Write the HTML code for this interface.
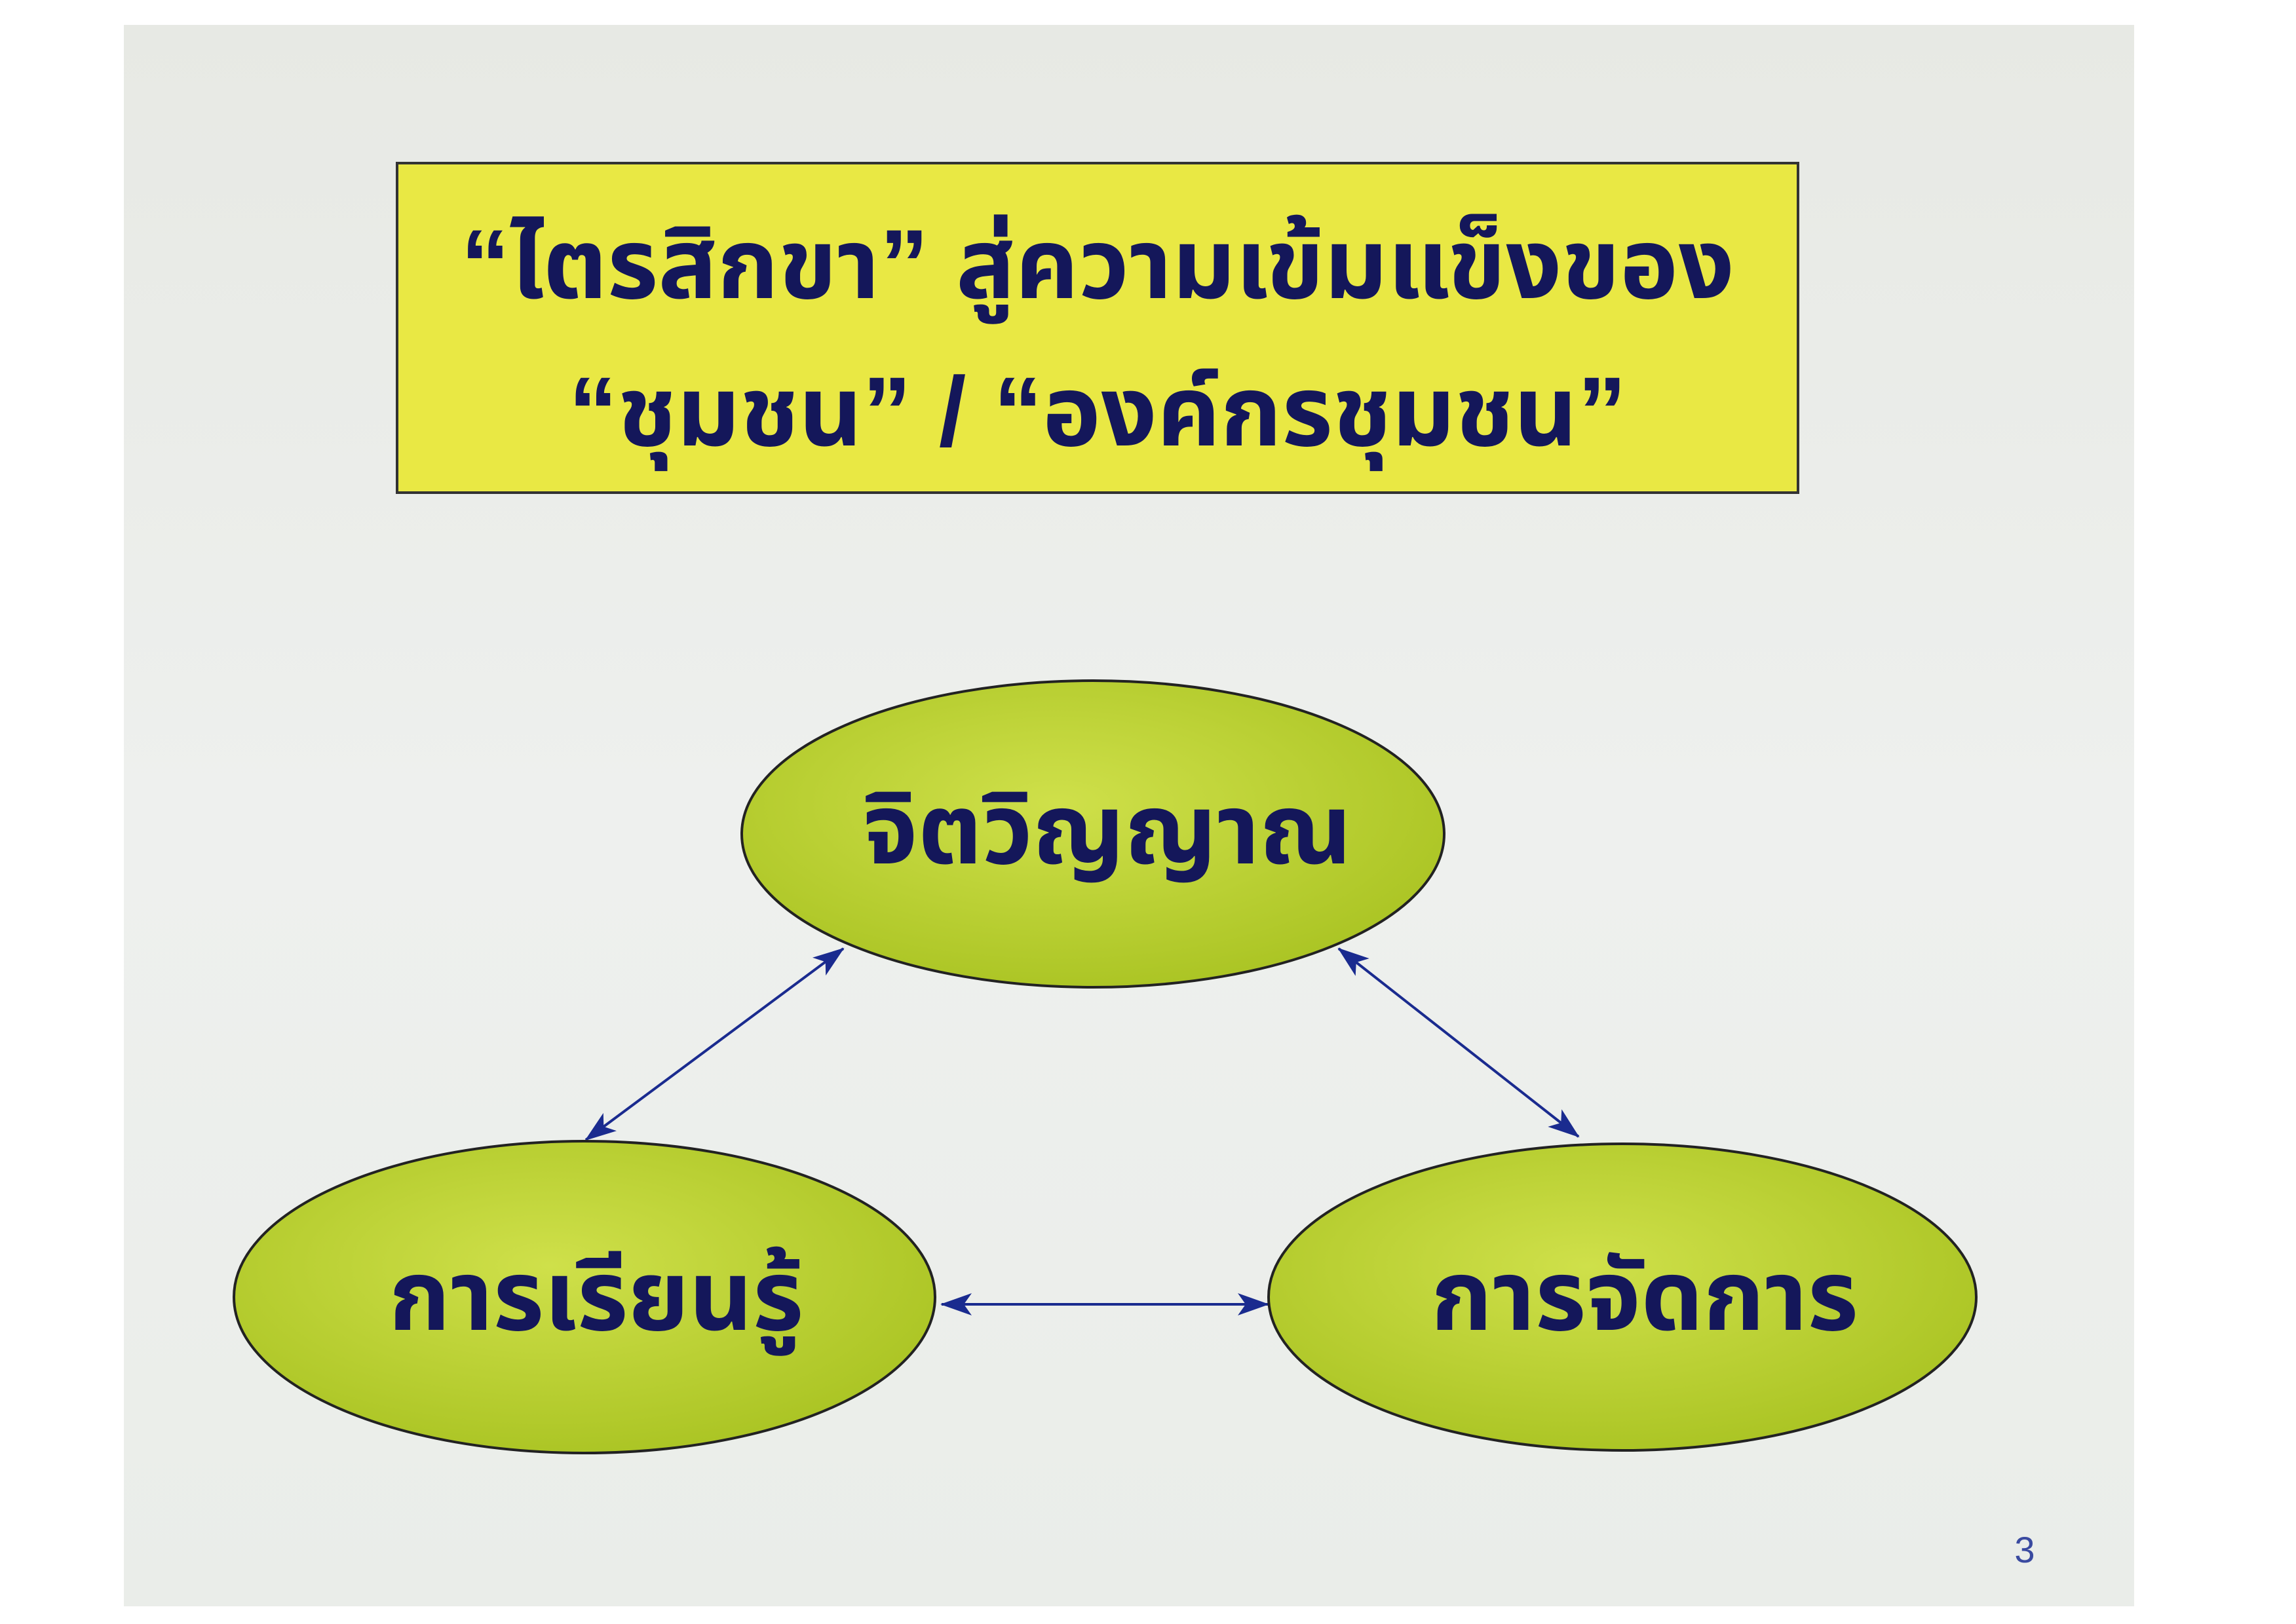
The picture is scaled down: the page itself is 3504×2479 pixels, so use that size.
<!DOCTYPE html>
<html><head><meta charset="utf-8"><style>
html,body{margin:0;padding:0;background:#fff;}
svg{display:block;}
text{font-family:"Liberation Sans","Noto Sans Thai","Tahoma",sans-serif;font-weight:bold;}
</style></head><body>
<svg width="3504" height="2479" viewBox="0 0 3504 2479" xmlns="http://www.w3.org/2000/svg">
<defs>
<linearGradient id="bg" x1="0" y1="0" x2="0" y2="1">
<stop offset="0" stop-color="#e7e9e4"/><stop offset="0.5" stop-color="#eef0ee"/><stop offset="1" stop-color="#eaede9"/>
</linearGradient>
<radialGradient id="el" cx="0.45" cy="0.4" r="0.65">
<stop offset="0" stop-color="#cfe04a"/><stop offset="1" stop-color="#a9c322"/>
</radialGradient>
<marker id="ah" markerWidth="48" markerHeight="34" refX="46" refY="17" orient="auto-start-reverse" markerUnits="userSpaceOnUse" viewBox="0 0 48 34">
<path d="M0,0 L48,17 L0,34 L12,17 z" fill="#1a2b8f"/>
</marker>
</defs>
<rect x="189" y="38" width="3068" height="2414" fill="url(#bg)"/>
<rect x="606" y="249" width="2138" height="503" fill="#e9e844" stroke="#333" stroke-width="4"/>
<text x="1675" y="455" font-size="150" fill="#14175a" text-anchor="middle">“ไตรสิกขา” สู่ความเข้มแข็งของ</text>
<text x="1675" y="680" font-size="150" fill="#14175a" text-anchor="middle">“ชุมชน” / “องค์กรชุมชน”</text>
<g stroke="#1a2b8f" stroke-width="4" fill="none">
<line x1="1287" y1="1448" x2="894" y2="1740" marker-start="url(#ah)" marker-end="url(#ah)"/>
<line x1="2043" y1="1448" x2="2409" y2="1735" marker-start="url(#ah)" marker-end="url(#ah)"/>
<line x1="1437" y1="1991" x2="1935" y2="1991" marker-start="url(#ah)" marker-end="url(#ah)"/>
</g>
<ellipse cx="1668" cy="1273" rx="536" ry="234" fill="url(#el)" stroke="#222" stroke-width="4"/>
<ellipse cx="892" cy="1980" rx="535" ry="238" fill="url(#el)" stroke="#222" stroke-width="4"/>
<ellipse cx="2476" cy="1980" rx="540" ry="234" fill="url(#el)" stroke="#222" stroke-width="4"/>
<text x="1690" y="1318" font-size="150" fill="#14175a" text-anchor="middle">จิตวิญญาณ</text>
<text x="910" y="2030" font-size="150" fill="#14175a" text-anchor="middle">การเรียนรู้</text>
<text x="2510" y="2030" font-size="150" fill="#14175a" text-anchor="middle">การจัดการ</text>
<text x="3090" y="2385" font-size="56" style="font-weight:normal" fill="#3a4aa0" text-anchor="middle">3</text>
</svg>
</body></html>
